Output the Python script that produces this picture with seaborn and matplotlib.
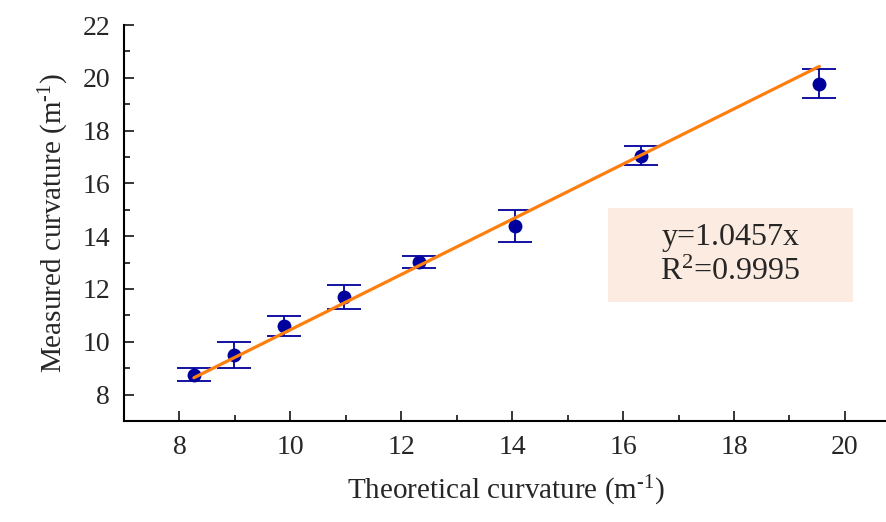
import numpy as np
import pandas as pd
import matplotlib

matplotlib.use("Agg")

import matplotlib.pyplot as plt
import seaborn as sns
from matplotlib.patches import Rectangle
from matplotlib.ticker import MultipleLocator

# =====================================
# Data
# =====================================

theoretical = [8.26, 8.98, 9.88, 10.96, 12.32, 14.06, 16.33, 19.54]
measured = [8.75, 9.50, 10.60, 11.70, 13.03, 14.40, 17.05, 19.78]
errors = [0.25, 0.51, 0.38, 0.46, 0.23, 0.61, 0.36, 0.55]
slope = 1.0457
r_squared = 0.9995

df = pd.DataFrame({"theoretical": theoretical, "measured": measured, "err": errors})

fit_x = [min(theoretical), max(theoretical)]
fit = pd.DataFrame({"x": fit_x, "y": [slope * v for v in fit_x]})

# =====================================
# Style
# =====================================

sns.set_style("ticks")
plt.rcParams["font.family"] = ["Liberation Serif", "DejaVu Serif"]
plt.rcParams["mathtext.fontset"] = "custom"
plt.rcParams["mathtext.rm"] = "Liberation Serif"
plt.rcParams["mathtext.it"] = "Liberation Serif:italic"

navy = "#00009C"
orange = "#FF7F0E"

fig = plt.figure(figsize=(8.87, 5.22), dpi=100)
ax = fig.add_axes([0.1398, 0.1935, 0.8602, 0.7586])

# error bars + points
ax.errorbar(df["theoretical"], df["measured"], yerr=df["err"], fmt="none",
            ecolor=navy, elinewidth=1.3, capsize=12, capthick=1.3, zorder=2)
sns.scatterplot(data=df, x="theoretical", y="measured", color=navy, s=100,
                edgecolor=navy, linewidth=0, ax=ax, zorder=3)

# fit line
sns.lineplot(data=fit, x="x", y="y", color=orange, linewidth=2.3, ax=ax, zorder=4)

# equation box
ax.add_patch(Rectangle((15.72, 11.52), 4.42, 3.56, facecolor="#FBEBE0",
                       edgecolor="none", zorder=1))
ax.text(17.93, 13.3, f"y={slope}x\nR$^{{\\mathregular{{2}}}}$={r_squared}",
        ha="center", va="center", fontsize=23, linespacing=1.25, zorder=5)

ax.set_xlim(7, 20.76)
ax.set_ylim(7, 22)
ax.xaxis.set_major_locator(MultipleLocator(2))
ax.xaxis.set_minor_locator(MultipleLocator(1))
ax.yaxis.set_major_locator(MultipleLocator(2))
ax.yaxis.set_minor_locator(MultipleLocator(1))
ax.set_yticks(range(8, 23, 2))

ax.tick_params(which="major", direction="in", length=7, width=1.3, labelsize=20, pad=10)
ax.tick_params(which="minor", direction="in", length=4, width=1.3)

sns.despine(ax=ax)
for side in ["left", "bottom"]:
    ax.spines[side].set_linewidth(1.5)
    ax.spines[side].set_color("black")

ax.set_xlabel("Theoretical curvature (m$^{\\mathregular{\u20101}}$)", fontsize=21, labelpad=10)
ax.set_ylabel("Measured curvature (m$^{\\mathregular{\u20101}}$)", fontsize=21, labelpad=8)

plt.savefig("out.png", dpi=100)
plt.close()
